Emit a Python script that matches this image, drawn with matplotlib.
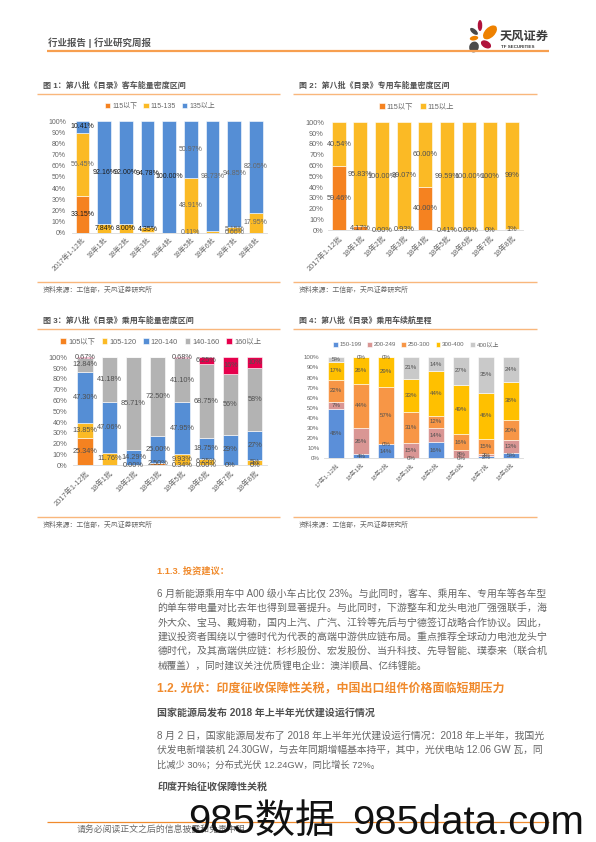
import matplotlib
matplotlib.use('Agg')
import matplotlib.pyplot as plt
from matplotlib.patches import Ellipse
import numpy as np

plt.rcParams['font.family'] = ['Liberation Sans', 'Noto Sans CJK SC', 'DejaVu Sans']

# ---------- data ----------
cats_nine = ['2017年1-12批', '18年1批', '18年2批', '18年3批', '18年4批', '18年5批', '18年6批', '18年7批', '18年8批']
cats_eight_a = ['2017年1-12批', '18年1批', '18年2批', '18年3批', '18年5批', '18年6批', '18年7批', '18年8批']
cats_eight_b = ['17年1-12批', '18年1批', '18年2批', '18年3批', '18年5批', '18年6批', '18年7批', '18年8批']

bus_names = ['115以下', '115-135', '135以上']
bus_low = [33.15, 0, 0, 0.87, 0, 0.11, 0, 0.0, 0]
bus_mid = [56.45, 7.84, 8.00, 4.35, 0, 48.91, 1.27, 5.15, 17.95]
bus_high = [10.41, 92.16, 92.00, 94.78, 100.0, 50.97, 98.73, 94.85, 82.05]
bus_low_lab = ['33.15%', '', '', '', '', '0.11%', '', '0.00%', '']
bus_mid_lab = ['56.45%', '7.84%', '8.00%', '4.35%', '', '48.91%', '', '5.15%', '17.95%']
bus_high_lab = ['10.41%', '92.16%', '92.00%', '94.78%', '100.00%', '50.97%', '98.73%', '94.85%', '82.05%']

spec_names = ['115以下', '115以上']
spec_low = [59.46, 4.17, 0, 0.93, 40.0, 0.41, 0, 0, 1]
spec_high = [40.54, 95.83, 100.0, 99.07, 60.0, 99.59, 100.0, 100, 99]
spec_low_lab = ['59.46%', '4.17%', '0.00%', '0.93%', '40.00%', '0.41%', '0.00%', '0%', '1%']
spec_high_lab = ['40.54%', '95.83%', '100.00%', '99.07%', '60.00%', '99.59%', '100.00%', '100%', '99%']

car_names = ['105以下', '105-120', '120-140', '140-160', '160以上']
car_a = [25.34, 0, 0, 2.5, 0.34, 0, 0, 0]
car_b = [13.85, 11.76, 0, 0, 9.93, 6.25, 0, 5]
car_c = [47.30, 47.06, 14.29, 25.0, 47.95, 18.75, 28.5, 27]
car_d = [12.84, 41.18, 85.71, 72.5, 41.10, 68.75, 56, 58]
car_e = [0.67, 0, 0, 0, 0.68, 6.25, 15.5, 10]
car_a_lab = ['25.34%', '', '0.00%', '2.50%', '0.34%', '0.00%', '0%', '0%']
car_b_lab = ['13.85%', '11.76%', '', '', '9.93%', '6.25%', '', '5%']
car_c_lab = ['47.30%', '47.06%', '14.29%', '25.00%', '47.95%', '18.75%', '29%', '27%']
car_d_lab = ['12.84%', '41.18%', '85.71%', '72.50%', '41.10%', '68.75%', '56%', '58%']
car_e_lab = ['0.67%', '', '', '', '0.68%', '6.25%', '16%', '10%']

rng_names = ['150-199', '200-249', '250-300', '300-400', '400以上']
rng_a = [48.4, 4, 14, 0, 16, 0, 2, 5]
rng_b = [7.4, 26, 0, 15, 14, 8, 2, 13]
rng_c = [22, 44, 57, 31, 12, 16, 15, 20]
rng_d = [17.4, 26, 29, 33, 44, 49, 46, 38]
rng_e = [4.8, 0, 0, 21, 14, 27, 35, 24]

yticks = list(range(0, 101, 10))

W, H = 596, 842
fig = plt.figure(figsize=(W / 100, H / 100), dpi=100, facecolor='white')
GRAY = '#666666'
DARK = '#505050'
ORANGE = '#F08A2C'
RULE = '#F9B77C'


def chart(box, cats, series, names, labels, colors, fs, width, legend_xy, label_colors=None, pad=4.2):
    # box: left, top, right, bottom in page pixels; y-range maps to 0..100 %
    l, t, r, b = box
    ax = fig.add_axes([l / W, 1 - b / H, (r - l) / W, (b - t) / H])
    x = np.arange(len(cats))
    bottom = np.zeros(len(cats))
    for i, (vals, nm, col) in enumerate(zip(series, names, colors)):
        vals = np.array(vals, float)
        ax.bar(x, vals, width, bottom=bottom, color=col, edgecolor='white', linewidth=0.4, label=nm)
        for j, (v, s) in enumerate(zip(vals, labels[i])):
            if s:
                c = label_colors[i][j] if label_colors else DARK
                ax.text(j, bottom[j] + v / 2, s, ha='center', va='center', fontsize=fs, color=c, clip_on=False, zorder=5)
        bottom += vals
    ax.set_xlim(-0.5, len(cats) - 0.5)
    ax.set_ylim(0, 100)
    ax.set_yticks(yticks)
    ax.set_yticklabels([f'{v}%' for v in yticks], fontsize=fs, color=GRAY)
    ax.set_xticks(x)
    ax.set_xticklabels(cats, fontsize=fs, color=GRAY, rotation=45, ha='right', rotation_mode='anchor')
    ax.tick_params(axis='y', length=0, pad=pad)
    ax.tick_params(axis='x', length=0, pad=3)
    for s in ['top', 'left', 'right']:
        ax.spines[s].set_visible(False)
    ax.spines['bottom'].set_color('#D9D9D9')
    ax.spines['bottom'].set_linewidth(0.6)
    ax.patch.set_alpha(0)
    ax.legend(loc='center', bbox_to_anchor=(legend_xy[0] / W, 1 - legend_xy[1] / H), bbox_transform=fig.transFigure,
              ncol=len(names), frameon=False, fontsize=fs, labelcolor=GRAY, handlelength=0.75, handleheight=0.75,
              handletextpad=0.3, columnspacing=0.9, borderpad=0)
    return ax


O, Y, B = '#F58220', '#FBBA25', '#558ED5'
K = '#1A1A1A'
G = '#666666'
bus_cols = [[K, G, G, G, G, G, G, G, G], [G, K, K, K, G, G, G, G, G], [K, K, K, K, K, G, G, G, G]]
chart((71.7, 121, 266.7, 232.7), cats_nine, [bus_low, bus_mid, bus_high], bus_names,
      [bus_low_lab, bus_mid_lab, bus_high_lab], [O, Y, B], 5.0, 0.62, (160, 106.7), bus_cols)
chart((328, 122.3, 522.7, 230.3), cats_nine, [spec_low, spec_high], spec_names,
      [spec_low_lab, spec_high_lab], [O, Y], 5.3, 0.65, (416.7, 107), pad=3)
chart((73, 357.3, 266.7, 465.3), cats_eight_a, [car_a, car_b, car_c, car_d, car_e], car_names,
      [car_a_lab, car_b_lab, car_c_lab, car_d_lab, car_e_lab], [O, Y, B, '#B3B3B3', '#E6004C'], 5.3, 0.63, (160.7, 342))
rng_series = [rng_a, rng_b, rng_c, rng_d, rng_e]
chart((323.6, 357.3, 523.3, 458.3), cats_eight_b, rng_series, rng_names,
      [[f'{v:.0f}%' for v in s] for s in rng_series],
      ['#5B8FD9', '#D99694', '#F79646', '#FFC000', '#C9C9C9'], 4.4, 0.63, (416, 344.7), pad=3)

# ---------- page overlay ----------
pg = fig.add_axes([0, 0, 1, 1], zorder=10)
pg.set_xlim(0, W)
pg.set_ylim(H, 0)
pg.axis('off')
pg.patch.set_alpha(0)
rend = fig.canvas.get_renderer()


def txt(x, y, s, fs=7, color=GRAY, weight='normal', x1=None, **kw):
    t = pg.text(x, y, s, fontsize=fs, color=color, fontweight=weight, va='center', ha='left', **kw)
    if x1 is not None:
        w = t.get_window_extent(rend).width
        t.set_fontsize(fs * (x1 - x) / w)
    return t


def rule(x0, x1, y, color=RULE, lw=1.0):
    pg.plot([x0, x1], [y, y], color=color, lw=lw, solid_capstyle='butt')


# header
txt(48, 42.7, '行业报告 | 行业研究周报', 7.4, '#555555', 'bold', x1=150)
rule(46.5, 549, 51.3, '#F79F4F', 1.6)
txt(500, 37, '天风证券', 9.2, '#3C3C3C', 'bold', x1=549)
txt(501, 47, 'TF SECURITIES', 3.4, '#3C3C3C', 'bold', x1=535)
for cx, cy, w, h, ang, col in [(480, 25.5, 4.5, 11, 0, '#B0123B'), (474, 31.4, 4.5, 9.5, -50, '#4A4A4A'),
                               (490, 32.4, 10, 17, 45, '#EE8100'), (474, 38.2, 4.5, 8.5, 80, '#EE8100'),
                               (486, 44.4, 7, 11, -60, '#B0123B'), (474, 47, 9.5, 11, 20, '#4A4A4A')]:
    pg.add_patch(Ellipse((cx, cy), w, h, angle=ang, facecolor=col, edgecolor='none'))

# chart frames
for x0, x1, xt, xh, xs, yh, yr, ys, yt, s in [
    (37, 280, 43, 186, 154, 86, 94.3, 281.7, 290, '图 1：第八批《目录》客车能量密度区间'),
    (293, 537, 299, 449.3, 410, 86, 94.3, 281.7, 290, '图 2：第八批《目录》专用车能量密度区间'),
    (37, 280, 43, 194, 154, 320.7, 329.3, 517, 525, '图 3：第八批《目录》乘用车能量密度区间'),
    (293, 537, 299, 433, 410, 320.7, 329.3, 517, 525, '图 4：第八批《目录》乘用车续航里程'),
]:
    txt(xt, yh, s, 6.1, '#505050', 'bold', x1=xh)
    rule(x0, x1, yr)
    rule(x0, x1, ys)
    txt(xt, yt, '资料来源：工信部，天风证券研究所', 5.2, GRAY, x1=xs)

# body
LX, RX = 157.4, 546.5
txt(LX, 571, '1.1.3. 投资建议：', 7.4, ORANGE, 'bold', x1=229)
for y, s in [
    (593.4, '6 月新能源乘用车中 A00 级小车占比仅 23%。与此同时，客车、乘用车、专用车等各车型'),
    (607.9, '的单车带电量对比去年也得到显著提升。与此同时，下游整车和龙头电池厂强强联手，海'),
    (622.3, '外大众、宝马、戴姆勒，国内上汽、广汽、江铃等先后与宁德签订战略合作协议。因此，'),
    (636.8, '建议投资者围绕以宁德时代为代表的高端中游供应链布局。重点推荐全球动力电池龙头宁'),
    (651.2, '德时代，及其高端供应链：杉杉股份、宏发股份、当升科技、先导智能、璞泰来（联合机'),
]:
    txt(LX, y, s, 7, GRAY, x1=RX)
txt(LX, 665.7, '械覆盖），同时建议关注优质锂电企业：澳洋顺昌、亿纬锂能。', 7, GRAY, x1=427.7)
txt(LX, 689.5, '1.2. 光伏：印度征收保障性关税，中国出口组件价格面临短期压力', 8.3, ORANGE, 'bold', x1=503.5)
txt(LX, 712.9, '国家能源局发布 2018 年上半年光伏建设运行情况', 7, '#505050', 'bold', x1=375)
txt(LX, 735.6, '8 月 2 日，国家能源局发布了 2018 年上半年光伏建设运行情况：2018 年上半年，我国光', 7, GRAY, x1=RX)
txt(LX, 750, '伏发电新增装机 24.30GW，与去年同期增幅基本持平，其中，光伏电站 12.06 GW 瓦，同', 7, GRAY, x1=RX)
txt(LX, 764.5, '比减少 30%；分布式光伏 12.24GW，同比增长 72%。', 7, GRAY, x1=381)
txt(LX, 786.9, '印度开始征收保障性关税', 7, '#505050', 'bold', x1=267.6)

# footer and watermark
rule(46.5, 549, 822, '#F08A2C', 0.9)
txt(76.5, 830.6, '请务必阅读正文之后的信息披露和免责申明', 6.2, '#6A6A6A', x1=245)
txt(542, 830.6, '4', 5, '#A0A0A0')
pg.text(188.4, 834, '985数据', fontsize=28.9, color='#111111', va='baseline', ha='left')
pg.text(352, 834, '985data.com', fontsize=28.9, color='#111111', va='baseline', ha='left')

fig.savefig('out.png', dpi=100)
